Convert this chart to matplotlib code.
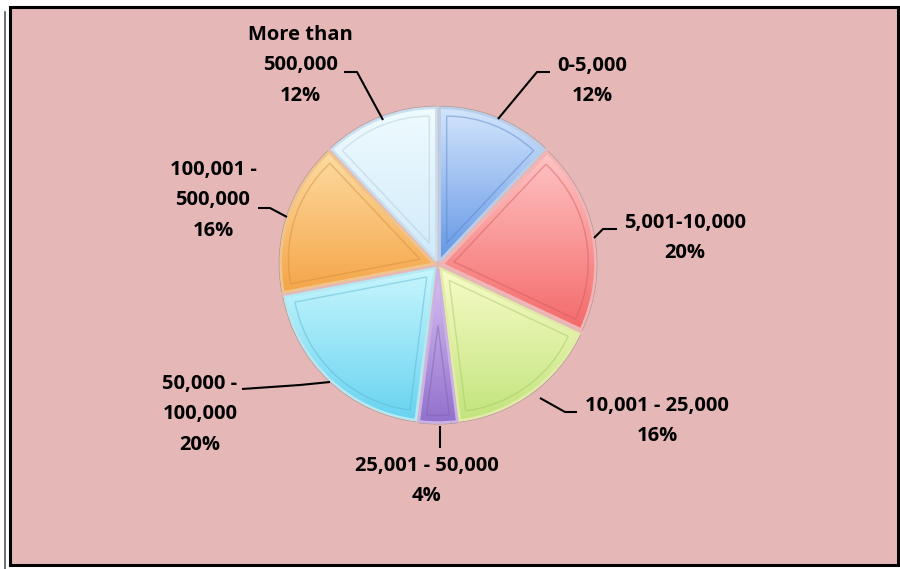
import numpy as np
import matplotlib
matplotlib.use("Agg")
import matplotlib.pyplot as plt
from matplotlib.patches import Wedge, Rectangle
from matplotlib.colors import LinearSegmentedColormap, to_rgb

# ---- data ----
categories = ["0-5,000", "5,001-10,000", "10,001 - 25,000", "25,001 - 50,000",
              "50,000 -\n100,000", "100,001 -\n500,000", "More than\n500,000"]
values = [12, 20, 16, 4, 20, 16, 12]

# gradient colours (top, bottom) per slice
grad_top = ["#d3e5fc", "#ffc4c4", "#f8fcc8", "#d8c2f2", "#c8f6fd", "#fddca2", "#effbfe"]
grad_bot = ["#6497e6", "#f46a6a", "#c2e47c", "#9270cc", "#68d3f1", "#f5a548", "#d0eafa"]
edge_cols = ["#b9cfe9", "#f2b4b4", "#e2eba8", "#c8b2e6", "#b6e8f2", "#f0c58c", "#c9dff0"]

# ---- layout (pixel coordinates, origin top-left) ----
W, H = 900, 569
cx, cy = 438, 265
R = 153
EXPL = 4.5
label_pos = [(592, 81), (685, 238), (657, 421), (427, 481), (200, 414), (213, 200), (300, 65)]
leaders = [
    [(550, 72), (537, 72), (498, 119)],
    [(617, 229), (603, 229), (594, 238)],
    [(577, 412), (565, 412), (540, 398)],
    [(440, 426), (440, 448)],
    [(242, 389), (300, 385), (330, 382)],
    [(258, 208), (270, 208), (287, 217)],
    [(344, 72), (357, 72), (383, 120)],
]

def Y(py):
    return H - py

fig = plt.figure(figsize=(9, 5.69), dpi=100, facecolor="white")
ax = fig.add_axes([0, 0, 1, 1])
ax.set_xlim(0, W)
ax.set_ylim(0, H)
ax.axis("off")

# frame
ax.add_patch(Rectangle((10, Y(565)), 888, 558, facecolor="#e5b8b7",
                       edgecolor="black", lw=2.2, zorder=0))
ax.plot([5, 5], [Y(12), 0], color="#555555", lw=1.2, zorder=1)

wedges, _ = ax.pie(values, startangle=90, counterclock=False, radius=R,
                   center=(cx, Y(cy)), explode=[EXPL] * len(values),
                   frame=False,
                   wedgeprops=dict(linewidth=1.8, zorder=3))
ax.set_xlim(0, W)
ax.set_ylim(0, H)
ax.set_aspect("auto")

for i, w in enumerate(wedges):
    w.set_facecolor("none")
    w.set_edgecolor(edge_cols[i])
    bb = w.get_path().get_extents()
    cmap = LinearSegmentedColormap.from_list(f"g{i}", [grad_bot[i], grad_top[i]])
    grad = np.linspace(0, 1, 256).reshape(-1, 1)
    im = ax.imshow(grad, extent=[bb.x0, bb.x1, bb.y0, bb.y1], origin="lower",
                   cmap=cmap, aspect="auto", zorder=2, interpolation="bilinear")
    im.set_clip_path(w)
    # inner bevel outline
    t1, t2 = w.theta1, w.theta2
    half = np.deg2rad((t2 - t1) / 2)
    mid = np.deg2rad((t1 + t2) / 2)
    d = 7
    off = d / np.sin(half)
    wc = w.center
    ic = (wc[0] + off * np.cos(mid), wc[1] + off * np.sin(mid))
    ir = R - d - off
    if ir > 5:
        dark = tuple(c * 0.85 for c in to_rgb(grad_bot[i]))
        ax.add_patch(Wedge(ic, ir, t1, t2, facecolor="none", edgecolor=dark,
                           lw=1.0, alpha=0.45, zorder=4))
    ax.add_patch(Wedge(wc, R + 1.5, t1, t2, facecolor="none", edgecolor="#9a8888",
                       lw=0.8, alpha=0.6, zorder=2.5))

ax.set_xlim(0, W)
ax.set_ylim(0, H)

for i, (cat, v) in enumerate(zip(categories, values)):
    pct = 100 * v / sum(values)
    x, y = label_pos[i]
    ax.text(x, Y(y), f"{cat}\n{pct:.0f}%", ha="center", va="center",
            fontsize=14.5, fontweight="bold", family="Open Sans",
            linespacing=1.7, color="black", zorder=6)
    pts = leaders[i]
    ax.plot([p[0] for p in pts], [Y(p[1]) for p in pts], color="black",
            lw=1.5, zorder=5, solid_capstyle="butt")

fig.savefig("out.png", dpi=100, facecolor="white")
